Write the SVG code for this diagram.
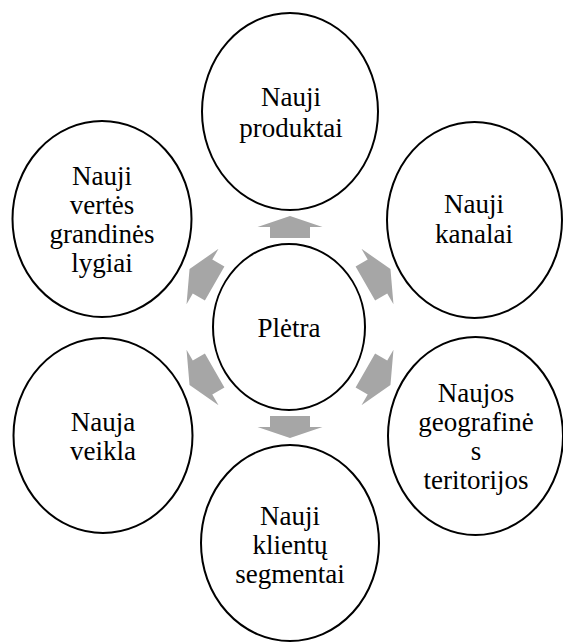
<svg xmlns="http://www.w3.org/2000/svg" xmlns:xlink="http://www.w3.org/1999/xlink" width="563" height="642" viewBox="0 0 563 642">
  <style>
    .node ellipse { fill: #ffffff; stroke: #000000; stroke-width: 2; }
    .node text { font-family: 'Liberation Serif', 'Times New Roman', Times, serif; font-size: 27px; fill: #000000; text-anchor: middle; }
    .arrow { fill: #a6a6a6; stroke: none; }
  </style>
  <defs>
    <polygon id="arrV" class="arrow" points="89,-20 100,-20 100,-32.5 111,0 100,32.5 100,20 89,20"/>
    <polygon id="arrD" class="arrow" points="87,-19.5 101,-19.5 101,-32 116,0 101,32 101,19.5 87,19.5"/>
  </defs>
  <rect width="563" height="642" fill="#ffffff"/>

  <g id="connectors" transform="translate(290,327)">
    <use xlink:href="#arrV" href="#arrV" transform="rotate(-90)"/>
    <use xlink:href="#arrD" href="#arrD" transform="rotate(-30)"/>
    <use xlink:href="#arrD" href="#arrD" transform="rotate(30)"/>
    <use xlink:href="#arrV" href="#arrV" transform="rotate(90)"/>
    <use xlink:href="#arrD" href="#arrD" transform="rotate(150)"/>
    <use xlink:href="#arrD" href="#arrD" transform="rotate(210)"/>
  </g>

  <g id="center" class="node" font-family="Liberation Serif, serif">
    <ellipse cx="289" cy="327" rx="76" ry="83"/>
    <text x="289" y="337">Plėtra</text>
  </g>

  <g id="produktai" class="node">
    <ellipse cx="290" cy="111.5" rx="88" ry="98.5"/>
    <text x="291" y="106">Nauji</text>
    <text x="291" y="137">produktai</text>
  </g>

  <g id="kanalai" class="node">
    <ellipse cx="474.5" cy="220" rx="87.5" ry="98"/>
    <text x="474" y="213">Nauji</text>
    <text x="474" y="243">kanalai</text>
  </g>

  <g id="teritorijos" class="node">
    <ellipse cx="475.5" cy="436" rx="87.5" ry="99"/>
    <text x="476" y="402">Naujos</text>
    <text x="476" y="431">geografinė</text>
    <text x="476" y="460">s</text>
    <text x="476" y="489">teritorijos</text>
  </g>

  <g id="segmentai" class="node">
    <ellipse cx="290" cy="543" rx="89" ry="98"/>
    <text x="290" y="525">Nauji</text>
    <text x="290" y="554">klientų</text>
    <text x="290" y="583">segmentai</text>
  </g>

  <g id="veikla" class="node">
    <ellipse cx="103" cy="435.5" rx="89.5" ry="97.5"/>
    <text x="103" y="431">Nauja</text>
    <text x="103" y="460">veikla</text>
  </g>

  <g id="grandines" class="node">
    <ellipse cx="102" cy="219" rx="89.5" ry="98"/>
    <text x="102" y="185">Nauji</text>
    <text x="102" y="214">vertės</text>
    <text x="102" y="243">grandinės</text>
    <text x="102" y="272">lygiai</text>
  </g>
</svg>
